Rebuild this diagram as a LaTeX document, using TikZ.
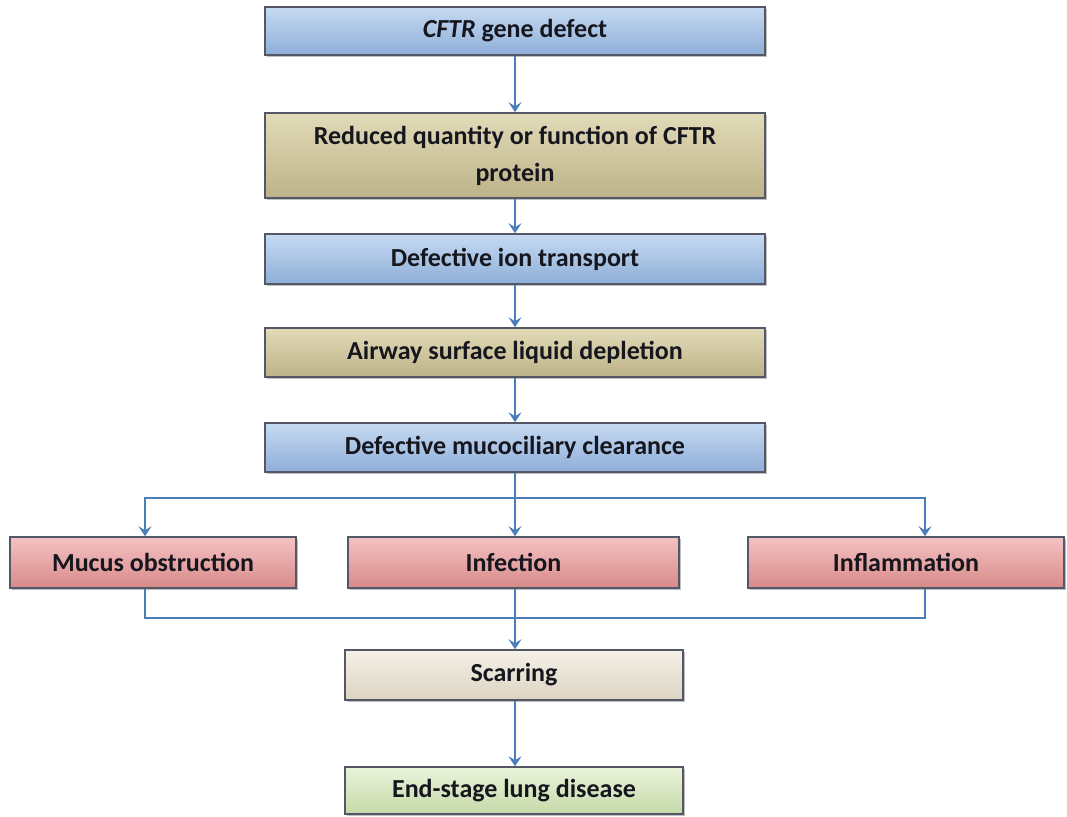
\documentclass[tikz,border=0pt]{standalone}
\usepackage{fontspec}
\setmainfont{Carlito}
\usetikzlibrary{arrows.meta,shadows,calc}
\definecolor{boxborder}{HTML}{545866}
\definecolor{arrowc}{HTML}{4A7EBB}
\definecolor{textc}{HTML}{16161E}
\definecolor{blueT}{HTML}{C6DAF2}
\definecolor{blueM}{HTML}{A7C3E6}
\definecolor{blueB}{HTML}{8EAED8}
\definecolor{tanT}{HTML}{E2DBB8}
\definecolor{tanM}{HTML}{CEC49E}
\definecolor{tanB}{HTML}{BDB288}
\definecolor{pinkT}{HTML}{F4C2C2}
\definecolor{pinkM}{HTML}{E8A0A0}
\definecolor{pinkB}{HTML}{D98A8A}
\definecolor{scarT}{HTML}{F5F1E8}
\definecolor{scarM}{HTML}{EBE4D6}
\definecolor{scarB}{HTML}{DCD4C2}
\definecolor{endT}{HTML}{EAF3DC}
\definecolor{endM}{HTML}{D8E8C0}
\definecolor{endB}{HTML}{C6DAA8}
\begin{document}
\begin{tikzpicture}[x=1pt,y=-1pt,
  boxbase/.style={draw=boxborder, line width=1.5pt, inner sep=0pt,
    font=\fontsize{26}{37}\selectfont\bfseries, text=textc, align=center,
    drop shadow={shadow xshift=2pt, shadow yshift=-2pt, opacity=0.25, fill=black}},
  bluebox/.style={boxbase, top color=blueT, middle color=blueM, bottom color=blueB},
  tanbox/.style={boxbase, top color=tanT, middle color=tanM, bottom color=tanB},
  pinkbox/.style={boxbase, top color=pinkT, middle color=pinkM, bottom color=pinkB},
  scarbox/.style={boxbase, top color=scarT, middle color=scarM, bottom color=scarB},
  endbox/.style={boxbase, top color=endT, middle color=endM, bottom color=endB},
  conn/.style={draw=arrowc, line width=1.6pt},
  arr/.style={conn, -{Stealth[length=10pt,width=13pt,inset=4pt]}}
]
\useasboundingbox (0,0) rectangle (1067,816);

\node[bluebox, minimum width=500pt, minimum height=48pt] (b1) at (515,31) {\textit{CFTR} gene defect};
\node[tanbox, minimum width=500pt, minimum height=85pt] (b2) at (515,155.5) {Reduced quantity or function of CFTR\\protein};
\node[bluebox, minimum width=500pt, minimum height=50pt] (b3) at (515,259) {Defective ion transport};
\node[tanbox, minimum width=500pt, minimum height=49pt] (b4) at (515,352.5) {Airway surface liquid depletion};
\node[bluebox, minimum width=500pt, minimum height=49pt] (b5) at (515,447.5) {Defective mucociliary clearance};

\node[pinkbox, minimum width=286pt, minimum height=51pt] (mucus) at (153,562.5) {Mucus obstruction};
\node[pinkbox, minimum width=331pt, minimum height=51pt] (infect) at (513.5,562.5) {Infection};
\node[pinkbox, minimum width=316pt, minimum height=51pt] (inflam) at (906,562.5) {Inflammation};

\node[scarbox, minimum width=338pt, minimum height=50pt] (scar) at (514,675) {Scarring};
\node[endbox, minimum width=338pt, minimum height=47pt] (endst) at (514,790.5) {End-stage lung disease};

\coordinate (split) at (515,498);
\coordinate (merge) at (515,618);
\coordinate (lx) at (145,0);
\coordinate (rx) at (925,0);

\draw[arr] (b1.south) -- (b2.north);
\draw[arr] (b2.south) -- (b3.north);
\draw[arr] (b3.south) -- (b4.north);
\draw[arr] (b4.south) -- (b5.north);
\draw[conn] (b5.south) -- (split);
\draw[arr] (split) -| (lx |- mucus.north);
\draw[arr] (split) -| (rx |- inflam.north);
\draw[arr] (split) -- (split |- infect.north);
\draw[conn] (lx |- mucus.south) |- (merge);
\draw[conn] (rx |- inflam.south) |- (merge);
\draw[arr] (split |- infect.south) -- (split |- scar.north);
\draw[arr] (split |- scar.south) -- (split |- endst.north);
\end{tikzpicture}
\end{document}
